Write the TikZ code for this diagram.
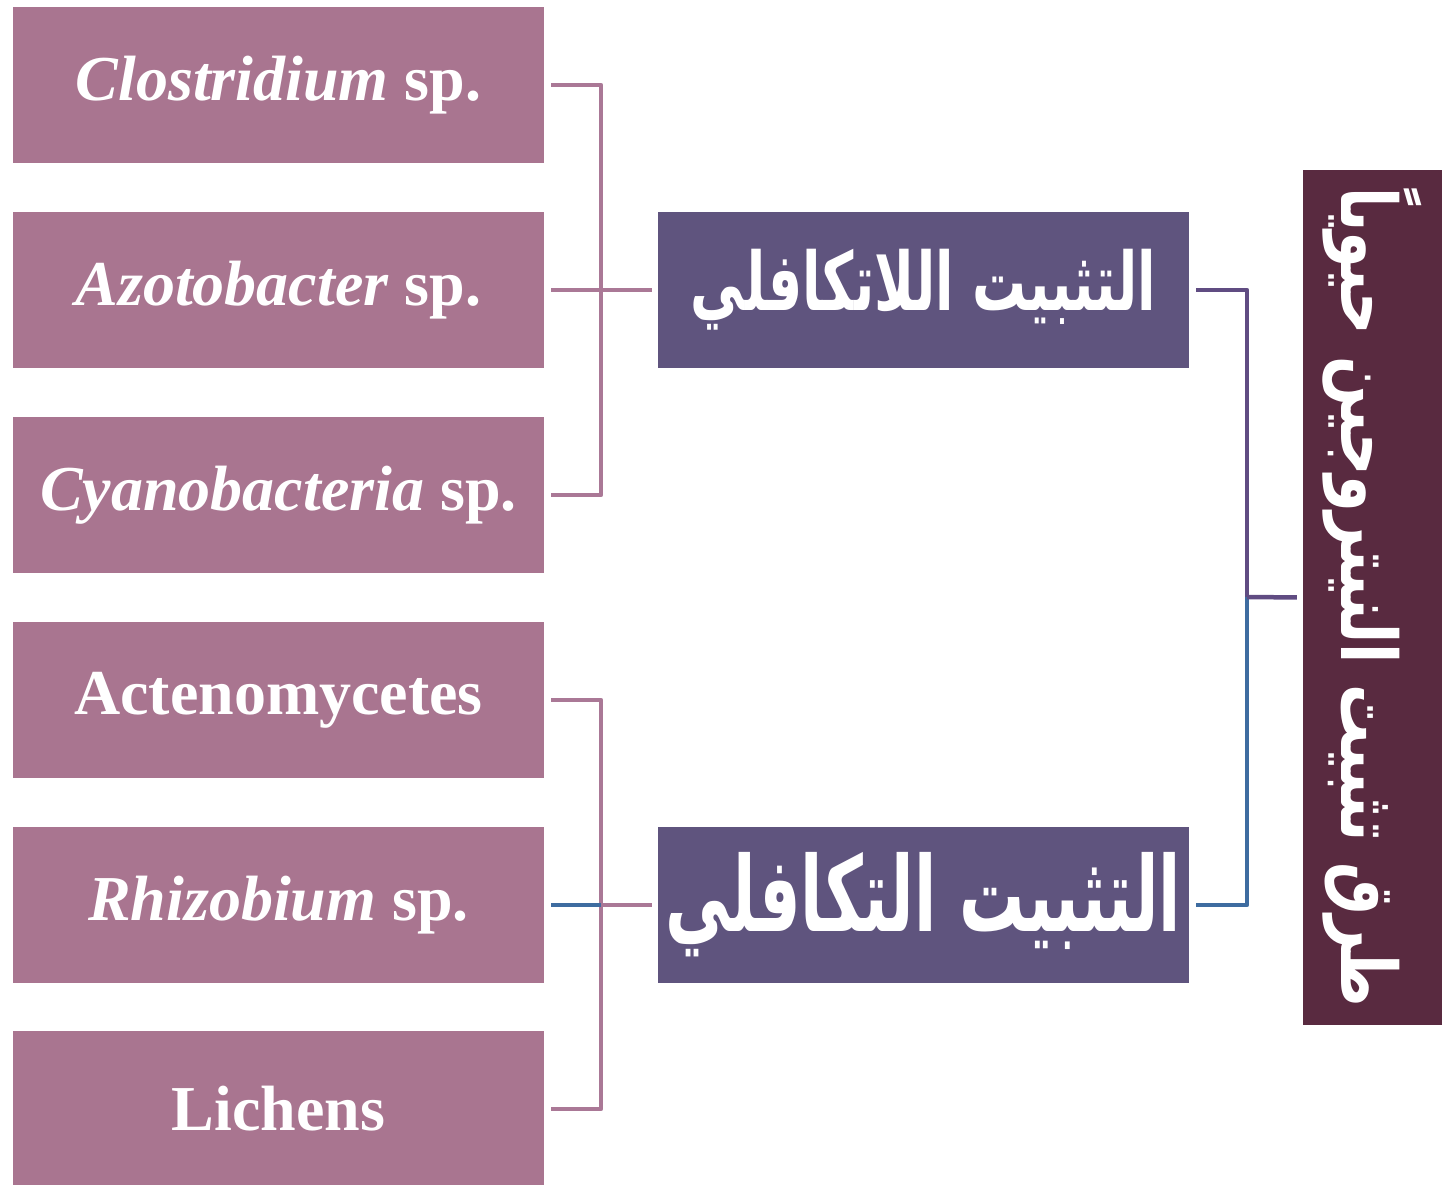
\documentclass[tikz,border=0pt]{standalone}
\usepackage{fontspec}
\setmainfont{Liberation Serif}
\newfontfamily\arabicfont[Script=Arabic]{DejaVu Sans}
\TeXXeTstate=1
\definecolor{leafbox}{RGB}{169,117,144}
\definecolor{midbox}{RGB}{95,84,126}
\definecolor{rootbox}{RGB}{89,42,64}
\definecolor{pinkln}{RGB}{170,120,150}
\definecolor{purpln}{RGB}{96,76,130}
\definecolor{bluln}{RGB}{62,108,160}
\tikzset{
  leaf/.style={fill=leafbox, minimum width=531pt, minimum height=156pt, inner sep=0pt, text=white,
    font=\fontsize{64}{70}\selectfont\bfseries},
  midnode/.style={fill=midbox, minimum width=531pt, minimum height=156pt, inner sep=0pt, text=white},
  rootnode/.style={fill=rootbox, minimum width=139pt, minimum height=855pt, inner sep=0pt, text=white},
  conn/.style={line width=4.5pt, line join=round},
}
\begin{document}
\begin{tikzpicture}[x=1pt,y=-1pt]
\useasboundingbox (0,0) rectangle (1442,1184);
\node[leaf] (b1) at (278.5,85) {\textit{Clostridium} sp.};
\node[leaf] (b2) at (278.5,290) {\textit{Azotobacter} sp.};
\node[leaf] (b3) at (278.5,495) {\textit{Cyanobacteria} sp.};
\node[leaf] (b4) at (278.5,700) {Actenomycetes};
\node[leaf] (b5) at (278.5,905) {\textit{Rhizobium} sp.};
\node[leaf] (b6) at (278.5,1109) {Lichens};
\node[midnode] (m1) at (923.5,290) {\resizebox{465pt}{!}{\scalebox{1}[1.5]{\arabicfont\bfseries\beginR التثبيت اللاتكافلي\endR}}};
\node[midnode] (m2) at (923.5,905) {\resizebox{515pt}{!}{\scalebox{1}[1.6]{\arabicfont\bfseries\beginR التثبيت التكافلي\endR}}};
\node[rootnode] (r) at (1372.5,597.5) {\rotatebox{-90}{\resizebox{820pt}{!}{\scalebox{1}[1.3]{\arabicfont\bfseries\beginR طرق تثبيت النيتروجين حيوياً\endR}}}};
\coordinate (j1) at (601,290);
\coordinate (j2) at (601,905);
\coordinate (j3) at (1247,597);
\draw[conn, pinkln, shorten <=7pt] (b1.east) -| (j1);
\draw[conn, pinkln, shorten <=7pt] (b3.east) -| (j1);
\draw[conn, pinkln, shorten <=7pt, shorten >=6pt] (b2.east) -- (m1.west);
\draw[conn, pinkln, shorten <=7pt] (b4.east) -| (j2);
\draw[conn, pinkln, shorten <=7pt] (b6.east) -| (j2);
\draw[conn, bluln, shorten <=7pt] (b5.east) -- (j2);
\draw[conn, pinkln, shorten >=6pt] (j2) -- (m2.west);
\draw[conn, purpln, shorten <=7pt] (m1.east) -| (j3);
\draw[conn, bluln, shorten <=7pt] (m2.east) -| (j3);
\draw[conn, purpln, shorten >=6pt] (j3) -- (r.west);
\end{tikzpicture}
\end{document}
